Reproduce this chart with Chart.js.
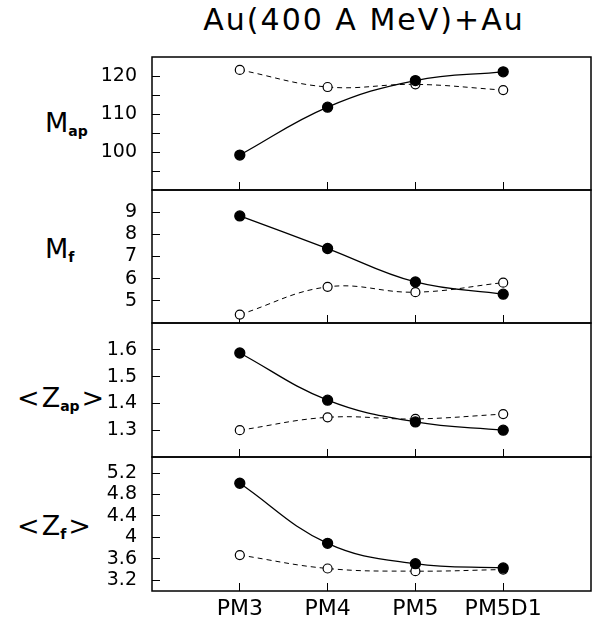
<!DOCTYPE html>
<html>
<head>
<meta charset="utf-8">
<script src="https://cdn.jsdelivr.net/npm/chart.js@4"></script>
<style>
  body { margin: 0; background: #fff; }
  #wrap { position: relative; width: 592px; height: 626px; font-family: "DejaVu Sans", sans-serif; color: #000; overflow: hidden; }
  .box { position: absolute; left: 0; width: 592px; }
  #title { position: absolute; left: 0; top: 5px; width: 728px; text-align: center; font-size: 30px; line-height: 1; letter-spacing: 2px; white-space: nowrap; }
  .ylab { position: absolute; font-size: 27px; line-height: 1; transform: translateY(-50%); white-space: nowrap; }
  .ylab sub { font-size: 14px; font-weight: bold; vertical-align: -0.3em; line-height: 0; }
  .ylab .br { margin: 0 2px; }
</style>
</head>
<body>
<div id="wrap">
  <div id="title">Au(400 A MeV)+Au</div>
  <div class="ylab" style="left:45px; top:122px">M<sub>ap</sub></div>
  <div class="ylab" style="left:45px; top:248px">M<sub>f</sub></div>
  <div class="ylab" style="left:15px; top:397px"><span class="br">&lt;</span>Z<sub>ap</sub><span class="br">&gt;</span></div>
  <div class="ylab" style="left:15px; top:525px"><span class="br">&lt;</span>Z<sub>f</sub><span class="br">&gt;</span></div>
  <div class="box" style="top:52px"><canvas id="c0" width="592" height="143"></canvas></div>
  <div class="box" style="top:185px"><canvas id="c1" width="592" height="143"></canvas></div>
  <div class="box" style="top:318px"><canvas id="c2" width="592" height="144"></canvas></div>
  <div class="box" style="top:452px"><canvas id="c3" width="592" height="174"></canvas></div>
</div>
<script>
const categories = ["PM3", "PM4", "PM5", "PM5D1"];

// M_ap
const mapFilled = [99.2, 111.8, 118.8, 121.1];
const mapOpen = [121.6, 117.1, 117.8, 116.3];
const mapTicks = [95, 100, 105, 110, 115, 120];
const mapTickLabels = ["", "100", "", "110", "", "120"];

// M_f
const mfFilled = [8.83, 7.36, 5.85, 5.3];
const mfOpen = [4.38, 5.63, 5.39, 5.82];
const mfTicks = [5, 6, 7, 8, 9];
const mfTickLabels = ["5", "6", "7", "8", "9"];

// <Z_ap>
const zapFilled = [1.588, 1.412, 1.331, 1.30];
const zapOpen = [1.30, 1.348, 1.342, 1.36];
const zapTicks = [1.3, 1.4, 1.5, 1.6];
const zapTickLabels = ["1.3", "1.4", "1.5", "1.6"];

// <Z_f>
const zfFilled = [5.01, 3.89, 3.51, 3.43];
const zfOpen = [3.67, 3.42, 3.37, 3.40];
const zfTicks = [3.2, 3.6, 4, 4.4, 4.8, 5.2];
const zfTickLabels = ["3.2", "3.6", "4", "4.4", "4.8", "5.2"];

const FONT = "DejaVu Sans";

const frame = {
  id: "frame",
  afterDraw(chart) {
    const { ctx, chartArea: a } = chart;
    ctx.save();
    ctx.strokeStyle = "#000";
    ctx.lineWidth = 1.5;
    ctx.strokeRect(a.left, a.top, a.right - a.left, a.bottom - a.top);
    ctx.restore();
  },
};

function pts(vals) {
  return vals.map((v, i) => ({ x: i, y: v }));
}

function panel(id, filled, open, yMin, yMax, yTicks, yLabels, last) {
  new Chart(document.getElementById(id), {
    type: "line",
    data: {
      datasets: [
        {
          data: pts(filled),
          borderColor: "#000",
          borderWidth: 1.3,
          backgroundColor: "#000",
          pointBackgroundColor: "#000",
          pointBorderColor: "#000",
          pointRadius: 5,
          tension: 0.4,
        },
        {
          data: pts(open),
          borderColor: "#000",
          borderWidth: 1,
          borderDash: [5, 4],
          pointBackgroundColor: "#fff",
          pointBorderColor: "#000",
          pointBorderWidth: 1.2,
          pointRadius: 4.5,
          tension: 0.4,
        },
      ],
    },
    options: {
      responsive: false,
      animation: false,
      layout: { autoPadding: false, padding: { top: 5, bottom: last ? 0 : 5, left: 0, right: 1 } },
      plugins: { legend: { display: false }, tooltip: { enabled: false } },
      scales: {
        x: {
          type: "linear",
          min: -1,
          max: 4,
          afterBuildTicks: (s) => {
            s.ticks = categories.map((c, i) => ({ value: i }));
          },
          afterFit: (s) => {
            s.height = last ? 35 : 0;
            s.paddingLeft = 0;
            s.paddingRight = 0;
          },
          ticks: {
            display: last,
            autoSkip: false,
            maxRotation: 0,
            padding: 13,
            color: "#000",
            font: { family: FONT, size: 22 },
            callback: (v, i) => categories[i],
          },
          grid: { drawOnChartArea: false, tickLength: -8, color: "#000", lineWidth: 1 },
          border: { display: false },
        },
        y: {
          min: yMin,
          max: yMax,
          afterBuildTicks: (s) => {
            s.ticks = yTicks.map((v) => ({ value: v }));
          },
          afterFit: (s) => {
            s.width = 152;
            s.paddingTop = 0;
            s.paddingBottom = 0;
          },
          ticks: {
            autoSkip: false,
            padding: 23,
            color: "#000",
            font: { family: FONT, size: 19 },
            callback: (v, i) => yLabels[i],
          },
          grid: { drawOnChartArea: false, tickLength: -8, color: "#000", lineWidth: 1 },
          border: { display: false },
        },
      },
    },
    plugins: [frame],
  });
}

panel("c0", mapFilled, mapOpen, 90, 125, mapTicks, mapTickLabels, false);
panel("c1", mfFilled, mfOpen, 4, 10, mfTicks, mfTickLabels, false);
panel("c2", zapFilled, zapOpen, 1.2, 1.7, zapTicks, zapTickLabels, false);
panel("c3", zfFilled, zfOpen, 3.0, 5.5, zfTicks, zfTickLabels, true);
</script>
</body>
</html>
